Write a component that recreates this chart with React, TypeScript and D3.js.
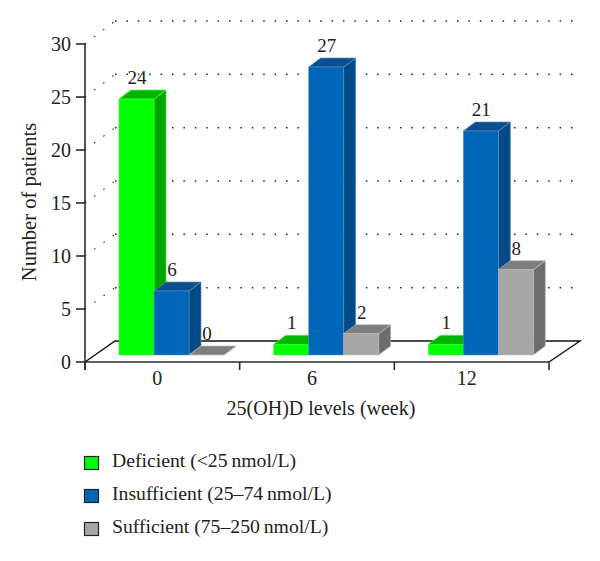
import React from "react";
import * as d3 from "d3";

const weeks = ["0", "6", "12"];
const seriesNames = ["Deficient", "Insufficient", "Sufficient"];
const deficient = [24, 1, 1];
const insufficient = [6, 27, 21];
const sufficient = [0, 2, 8];
const legendLabels = ["Deficient (<25\u2009nmol/L)", "Insufficient (25\u201374\u2009nmol/L)", "Sufficient (75\u2013250\u2009nmol/L)"];
const yTicks = [0, 5, 10, 15, 20, 25, 30];
const seriesValues = [deficient, insufficient, sufficient];
const palette = [
  { front: "#00ff00", side: "#00a400", top: "#00b400", edge: "#3cff3c" },
  { front: "#0066b8", side: "#004a86", top: "#0b4f8e", edge: "#5f8fbc" },
  { front: "#a6a6a6", side: "#6c6c6c", top: "#7e7e7e", edge: "#bdbdbd" },
];

const FONT = "'Liberation Serif', serif";
const INK = "#222";
const AX = "#2b2b2b";

const left = 85, right = 549;
const depthX = 31, depthY = 21;
const barDX = 12, barDY = 9;
const barW = 35;

const yAxis = d3.scaleLinear().domain([0, 30]).range([362, 44]);
const yBack = d3.scaleLinear().domain([0, 30]).range([341, 21]);
const yBar = d3.scaleLinear().domain([0, 30]).range([355, 35]);
const xBand = d3.scaleBand<string>().domain(weeks).range([left, right]);
const xTicks = [left, ...weeks.map((w) => (xBand(w) as number) + xBand.bandwidth())];
const xBar = d3.scaleBand<string>().domain(seriesNames).range([0, barW * 3]).padding(0);

const line = d3.line();

function Bar({ x, v, c }: { x: number; v: number; c: (typeof palette)[number] }) {
  const yT = yBar(v);
  const yB = yBar(0);
  const poly = (pts: [number, number][]) => line(pts) + "Z";
  return (
    <g>
      <path d={poly([[x + barW, yT], [x + barW + barDX, yT - barDY], [x + barW + barDX, yB - barDY], [x + barW, yB]])} fill={c.side} stroke={c.edge} strokeWidth={0.7} />
      <path d={poly([[x, yT], [x + barDX, yT - barDY], [x + barW + barDX, yT - barDY], [x + barW, yT]])} fill={c.top} stroke={c.edge} strokeWidth={0.7} />
      {v > 0 && <rect x={x} y={yT} width={barW} height={yB - yT} fill={c.front} stroke={c.edge} strokeWidth={0.5} />}
    </g>
  );
}

export default function App() {
  return (
    <svg width={600} height={561} style={{ position: "absolute", left: 0, top: 0 }} fontFamily={FONT}>
      <rect width={600} height={561} fill="#fff" />
      {/* floor */}
      <path d={line([[left, 362], [left + depthX - 1, 341], [right + depthX, 341], [right, 362]]) + ""} fill="none" stroke="#111" strokeWidth={1.4} />
      {/* grid */}
      {yTicks.filter((t) => t > 0).map((t) => (
        <g key={t} stroke="#222" strokeWidth={1.5} strokeDasharray="1.5 9.9" fill="none">
          <line x1={left + 30} x2={right + depthX} y1={yBack(t)} y2={yBack(t)} />
          <line x1={left} x2={left + 30} y1={yAxis(t)} y2={yBack(t)} strokeWidth={1.1} />
        </g>
      ))}
      {/* bars */}
      {weeks.map((w, i) => (
        <g key={w}>
          {seriesNames.map((s, j) => (
            <Bar key={s} x={(xBand(w) as number) + 34 + (xBar(s) as number)} v={seriesValues[j][i]} c={palette[j]} />
          ))}
        </g>
      ))}
      {/* value labels */}
      {weeks.map((w, i) =>
        seriesNames.map((s, j) => (
          <text key={w + s} x={(xBand(w) as number) + 34 + (xBar(s) as number) + 18} y={yBar(seriesValues[j][i]) - barDY - 6} textAnchor="middle" fontSize={19} fill={INK}>
            {seriesValues[j][i]}
          </text>
        ))
      )}
      {/* axes */}
      <line x1={left} x2={left} y1={yAxis(30) - 0.5} y2={370} stroke={AX} strokeWidth={1.6} />
      <line x1={left} x2={right} y1={362} y2={362} stroke={AX} strokeWidth={1.6} />
      {yTicks.map((t) => (
        <g key={t}>
          <line x1={left - 9} x2={left} y1={yAxis(t)} y2={yAxis(t)} stroke={AX} strokeWidth={1.6} />
          <text x={71} y={yAxis(t) + 6.5} textAnchor="end" fontSize={20} fill={INK}>{t}</text>
        </g>
      ))}
      {xTicks.map((x) => (
        <line key={x} x1={x} x2={x} y1={362} y2={370} stroke={AX} strokeWidth={1.6} />
      ))}
      {weeks.map((w) => (
        <text key={w} x={(xBand(w) as number) + xBand.bandwidth() / 2 - 5} y={385} textAnchor="middle" fontSize={20} fill={INK}>{w}</text>
      ))}
      <text x={321} y={415} textAnchor="middle" fontSize={20} fill={INK}>25(OH)D levels (week)</text>
      <text transform="translate(36,202) rotate(-90)" textAnchor="middle" fontSize={20.5} fill={INK}>Number of patients</text>
      {/* legend */}
      {legendLabels.map((l, i) => (
        <g key={l}>
          <rect x={84.5} y={456.5 + i * 33} width={14} height={13} fill={palette[i].front} stroke="#222" strokeWidth={1.2} />
          <text x={112} y={467 + i * 33} fontSize={19.7} fill={INK}>{l}</text>
        </g>
      ))}
    </svg>
  );
}
